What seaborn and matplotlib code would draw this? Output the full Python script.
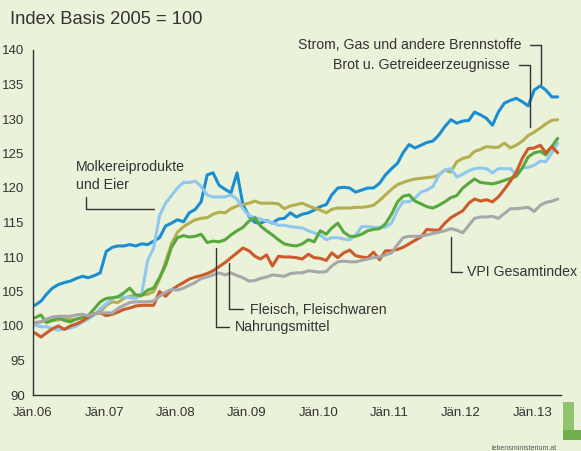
import numpy as np
import pandas as pd
import seaborn as sns
import matplotlib.pyplot as plt
from matplotlib.lines import Line2D
from matplotlib.patches import Rectangle

# monthly index values, Jan 2006 - May 2013 (2005 = 100)
monate = pd.date_range('2006-01-01', periods=89, freq='MS') + pd.Timedelta(days=10)

strom = [
    103.0, 103.6, 104.6, 105.5, 106.0, 106.3, 106.5, 106.9, 107.2, 107.0, 107.3, 107.7,
    110.8, 111.4, 111.6, 111.6, 111.8, 111.6, 111.9, 111.8, 112.3, 112.8, 114.5, 114.9,
    115.4, 115.1, 116.4, 116.9, 118.0, 121.9, 122.2, 120.4, 119.8, 119.3, 122.2, 117.6,
    115.9, 115.0, 114.9, 115.3, 114.9, 115.5, 115.6, 116.4, 115.8, 116.2, 116.4, 116.8,
    117.3, 117.6, 119.0, 120.0, 120.1, 120.0, 119.4, 119.7, 120.0, 120.0, 120.7, 121.9,
    122.8, 123.6, 125.1, 126.3, 125.8, 126.2, 126.6, 126.8, 127.7, 128.9, 129.9, 129.4,
    129.7, 129.8, 131.0, 130.6, 130.1, 129.1, 131.0, 132.3, 132.7, 133.0, 132.5, 131.9,
    134.2, 134.8, 134.2, 133.2, 133.2]

brot = [
    100.5, 100.6, 100.8, 100.8, 100.9, 101.0, 100.9, 101.0, 101.2, 101.4, 101.7, 102.0,
    103.0, 103.5, 103.4, 104.0, 104.3, 104.5, 104.5, 104.6, 105.0, 106.8, 109.3, 111.9,
    113.6, 114.4, 114.9, 115.4, 115.6, 115.7, 116.2, 116.5, 116.4, 117.0, 117.4, 117.6,
    117.8, 118.1, 117.8, 117.8, 117.8, 117.7, 117.0, 117.4, 117.6, 117.8, 117.4, 117.1,
    116.8, 116.4, 116.9, 117.1, 117.1, 117.1, 117.2, 117.2, 117.3, 117.5, 118.2, 119.0,
    119.8, 120.5, 120.8, 121.1, 121.3, 121.4, 121.5, 121.6, 121.9, 122.6, 122.3, 123.8,
    124.3, 124.5, 125.3, 125.6, 126.0, 125.9, 125.9, 126.5, 125.8, 126.2, 126.8, 127.6,
    128.1, 128.7, 129.3, 129.8, 129.9]

molkerei = [
    100.1, 99.9, 99.9, 99.6, 99.4, 99.6, 99.7, 100.0, 100.6, 101.0, 101.6, 102.5,
    103.2, 104.0, 104.3, 104.2, 104.1, 104.0, 104.5, 109.5, 111.3, 116.0, 117.8, 118.9,
    120.0, 120.8, 120.8, 121.0, 120.2, 119.0, 118.7, 118.7, 118.7, 119.0, 118.4, 117.0,
    116.0, 115.7, 115.5, 115.2, 115.0, 114.6, 114.6, 114.4, 114.3, 114.2, 113.8, 113.5,
    113.2, 112.5, 112.8, 112.8, 112.6, 112.5, 113.1, 114.4, 114.4, 114.3, 114.3, 114.3,
    114.9, 116.8, 118.0, 118.0, 118.5, 119.4, 119.7, 120.2, 121.9, 122.6, 122.8, 121.6,
    122.0, 122.5, 122.8, 122.9, 122.8, 122.2, 122.8, 122.8, 122.8, 122.0, 122.9, 123.0,
    123.3, 123.9, 123.8, 125.1, 126.5]

nahrung = [
    101.2, 101.6, 100.5, 100.8, 101.2, 100.8, 100.6, 101.0, 101.2, 101.5, 102.5, 103.5,
    104.0, 104.1, 104.2, 104.8, 105.5, 104.5, 104.4, 105.2, 105.5, 107.0, 108.8, 111.4,
    112.8, 113.1, 112.9, 113.0, 113.3, 112.1, 112.3, 112.2, 112.5, 113.2, 113.8, 114.3,
    115.2, 115.7, 114.5, 113.8, 113.2, 112.5, 111.9, 111.7, 111.6, 111.9, 112.5, 112.2,
    113.8, 113.3, 114.2, 114.9, 113.6, 113.0, 113.0, 113.3, 113.8, 114.0, 114.1, 114.8,
    116.2, 118.0, 118.8, 119.0, 118.1, 117.7, 117.3, 117.1, 117.5, 118.0, 118.6, 118.9,
    120.0, 120.7, 121.3, 120.8, 120.7, 120.6, 120.8, 121.1, 121.4, 121.7, 122.9, 124.5,
    125.1, 125.3, 124.8, 126.0, 127.2]

fleisch = [
    99.0, 98.4, 99.0, 99.6, 100.0, 99.5, 100.0, 100.3, 100.7, 101.3, 101.8, 101.9,
    101.5, 101.7, 102.0, 102.4, 102.6, 102.9, 103.0, 103.0, 103.0, 105.0, 104.3, 105.2,
    105.8, 106.3, 106.8, 107.1, 107.3, 107.6, 108.0, 108.6, 109.2, 109.9, 110.6, 111.3,
    110.9, 110.1, 109.7, 110.3, 108.7, 110.1, 110.0, 110.0, 109.9, 109.7, 110.4, 109.9,
    109.8, 109.5, 110.6, 109.9, 110.6, 111.0, 110.2, 110.0, 109.9, 110.7, 109.6, 110.9,
    110.9, 111.1, 111.4, 111.9, 112.4, 112.9, 114.0, 113.9, 113.9, 114.9, 115.7, 116.2,
    116.7, 117.8, 118.4, 118.1, 118.3, 118.0, 118.7, 119.8, 121.0, 122.3, 124.3, 125.7,
    125.8, 126.2, 125.1, 126.0, 125.1]

vpi = [
    100.4, 100.6, 101.0, 101.3, 101.4, 101.4, 101.4, 101.6, 101.7, 101.5, 101.8, 101.9,
    101.9, 101.9, 102.5, 103.0, 103.4, 103.5, 103.5, 103.5, 103.6, 104.3, 104.9, 105.3,
    105.2, 105.5, 105.9, 106.3, 106.9, 107.1, 107.4, 107.7, 107.4, 107.7, 107.3, 107.0,
    106.5, 106.6, 106.9, 107.1, 107.4, 107.3, 107.2, 107.6, 107.7, 107.7, 108.0, 107.9,
    107.8, 107.9, 108.7, 109.3, 109.4, 109.3, 109.3, 109.5, 109.7, 109.9, 110.0, 110.3,
    110.6, 111.8, 112.8, 113.0, 113.0, 113.0, 113.2, 113.4, 113.6, 113.8, 114.1, 113.9,
    113.5, 114.6, 115.6, 115.8, 115.8, 115.9, 115.6, 116.3, 117.0, 117.0, 117.1, 117.2,
    116.6, 117.5, 117.9, 118.1, 118.4]

reihen = ['Strom', 'Brot', 'Molkerei', 'Nahrungsmittel', 'Fleisch', 'VPI']
farben = ['#1b8dd3', '#b4ae4e', '#8fc8ee', '#58a83d', '#cc5b2c', '#a7a7a9']

df = pd.DataFrame({'Monat': monate, 'Strom': strom, 'Brot': brot, 'Molkerei': molkerei,
                   'Nahrungsmittel': nahrung, 'Fleisch': fleisch, 'VPI': vpi})
lang = df.melt(id_vars='Monat', var_name='Reihe', value_name='Index')

bg = '#eaf2d9'
txt = '#333333'
sns.set_style('white')
plt.rcParams['font.family'] = ['Liberation Sans', 'DejaVu Sans']

fig = plt.figure(figsize=(5.81, 4.51), dpi=100, facecolor=bg)
ax = fig.add_axes([33/581, 1-395/451, (561-33)/581, (395-50)/451])
ax.set_facecolor(bg)

sns.lineplot(data=lang, x='Monat', y='Index', hue='Reihe', hue_order=reihen,
             palette=dict(zip(reihen, farben)), linewidth=2.2, legend=False, ax=ax)

ax.set_xlim(pd.Timestamp('2006-01-01'), pd.Timestamp('2013-05-28'))
ax.set_ylim(90, 140)
ax.set_yticks(np.arange(90, 141, 5))
jahre = pd.date_range('2006-01-01', '2013-01-01', freq='YS')
ax.set_xticks(jahre)
ax.set_xticklabels([f'Jän.{j.year % 100:02d}' for j in jahre])
ax.set_xlabel('')
ax.set_ylabel('')
for s in ['top', 'right']:
    ax.spines[s].set_visible(False)
for s in ['left', 'bottom']:
    ax.spines[s].set_color(txt)
    ax.spines[s].set_linewidth(1)
ax.tick_params(axis='x', direction='out', length=4, width=1, color=txt,
               labelsize=9.5, labelcolor=txt, pad=5)
ax.tick_params(axis='y', direction='out', length=3, width=1, color=txt,
               labelsize=9.5, labelcolor=txt, pad=3)

fig.text(10/581, 1-20/451, 'Index Basis 2005 = 100', fontsize=13.2, color=txt,
         ha='left', va='center')


def px(x, y):
    return x/581, 1-y/451


def leader(pts):
    xs, ys = zip(*[px(x, y) for x, y in pts])
    fig.add_artist(Line2D(xs, ys, color=txt, lw=1))


def label(x, y, s, ha='left'):
    fx, fy = px(x, y)
    fig.text(fx, fy, s, fontsize=10.2, color=txt, ha=ha, va='center', linespacing=1.3)


label(521, 45, 'Strom, Gas und andere Brennstoffe', ha='right')
leader([(530, 45), (541, 45), (541, 84)])
label(510, 65, 'Brot u. Getreideerzeugnisse', ha='right')
leader([(519, 65), (530, 65), (530, 127)])
label(76, 176, 'Molkereiprodukte\nund Eier')
leader([(86, 197), (86, 209), (154, 209)])
label(250, 310, 'Fleisch, Fleischwaren')
leader([(229, 263), (229, 309), (243, 309)])
label(235, 327, 'Nahrungsmittel')
leader([(216, 248), (216, 327), (229, 327)])
label(467, 272, 'VPI Gesamtindex')
leader([(451, 237), (451, 272), (462, 272)])

# logo
fig.add_artist(Rectangle(px(563, 440), 11/581, 38/451, color='#8fc46c', lw=0))
fig.add_artist(Rectangle(px(563, 440), 18/581, 10/451, color='#6fae4a', lw=0))
fig.text(px(492, 448)[0], px(492, 448)[1], 'lebensministerium.at', fontsize=5,
         color='#555555', ha='left', va='center')

fig.savefig('out.png', dpi=100, facecolor=bg)
